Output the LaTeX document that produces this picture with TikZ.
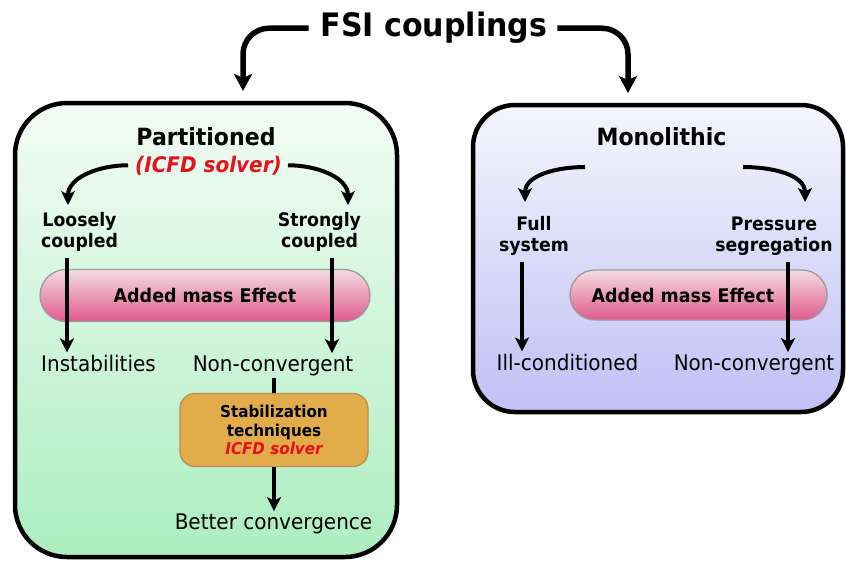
\documentclass[tikz,border=0pt]{standalone}
\usepackage{fontspec}
\setmainfont[FakeStretch=0.93]{DejaVu Sans}
\usetikzlibrary{arrows.meta,shapes.misc}

\definecolor{icfdred}{HTML}{E8101A}
\definecolor{partTop}{HTML}{F3FCF5}
\definecolor{partBot}{HTML}{ACEEC0}
\definecolor{monoTop}{HTML}{F5F5FD}
\definecolor{monoBot}{HTML}{C0C0F6}
\definecolor{pillTop}{HTML}{F4DCE1}
\definecolor{pillBot}{HTML}{E05A8C}
\definecolor{pillEdge}{HTML}{9A9A9A}
\definecolor{stabFill}{HTML}{E2AC4A}
\definecolor{stabEdge}{HTML}{B59055}

\tikzset{
  txt/.style={inner sep=2pt, text=black},
  heading/.style={txt, font=\bfseries\fontsize{23.7}{28}\selectfont},
  branch/.style={txt, align=center, font=\bfseries\fontsize{18.6}{21.5}\selectfont},
  result/.style={txt, font=\fontsize{21.5}{25}\selectfont},
  bigbox/.style={draw=black, line width=4.5pt, inner sep=0pt},
  pill/.style={rounded rectangle, draw=pillEdge, line width=1.3pt,
    top color=pillTop, bottom color=pillBot, inner sep=0pt,
    font=\bfseries\fontsize{18.8}{22}\selectfont},
  stabbox/.style={draw=stabEdge, line width=1.3pt, fill=stabFill,
    rounded corners=15pt, inner sep=0pt, align=center,
    font=\bfseries\fontsize{16.3}{18.7}\selectfont},
  arr/.style={line width=4pt, -{Stealth[length=14pt,width=14pt,inset=3.5pt]}},
  bigarr/.style={line width=5.5pt, -{Stealth[length=17pt,width=18pt,inset=4pt]}},
  plain/.style={line width=4pt},
}

\begin{document}
\begin{tikzpicture}[x=1pt,y=-1pt]
\useasboundingbox (0,0) rectangle (846,560);

% the two families of coupling schemes
\node[bigbox, rounded corners=52pt, top color=partTop, bottom color=partBot,
      minimum width=382pt, minimum height=454pt] (partbox) at (206,330) {};
\node[bigbox, rounded corners=42pt, top color=monoTop, bottom color=monoBot,
      minimum width=370pt, minimum height=307pt] (monobox) at (658,258.5) {};

% added mass bands
\node[pill, minimum width=330pt, minimum height=52pt] (lpill) at (205,295.5) {Added mass Effect};
\node[pill, minimum width=257pt, minimum height=50pt] (rpill) at (698.5,295) {};
\node[txt, font=\bfseries\fontsize{18.8}{22}\selectfont, anchor=base] (rmass) at (683,302) {Added mass Effect};

% title
\node[txt, anchor=base, font=\bfseries\fontsize{32.3}{38}\selectfont] (fsi) at (434,36) {FSI couplings};
\coordinate (tl) at (243,91);
\coordinate (tr) at (628,93);
\draw[bigarr, rounded corners=26pt] ([xshift=-10pt,yshift=-1pt]fsi.west) -| (tl);
\draw[bigarr, rounded corners=26pt] ([xshift=8pt,yshift=-1pt]fsi.east) -| (tr);

% partitioned side
\node[heading, anchor=base] (part) at (206,145) {Partitioned};
\node[txt, anchor=base, text=icfdred, font=\bfseries\itshape\fontsize{21.5}{25}\selectfont] (icfd) at (208.5,172) {(ICFD solver)};
\node[branch] (loose) at (79.5,232) {Loosely\\coupled};
\node[branch] (strong) at (319.5,232) {Strongly\\coupled};
\coordinate (pl) at (68,205);
\coordinate (pr) at (348,205);
\draw[arr] ([xshift=-5pt]icfd.west) to[out=180,in=90] (pl);
\draw[arr] ([xshift=4pt]icfd.east) to[out=0,in=90] (pr);

\node[result, anchor=base] (instab) at (98.5,371) {Instabilities};
\node[result, anchor=base] (ncl) at (273,371) {Non-convergent};
\path (loose.south) ++(-12.5pt,-4pt) coordinate (va);
\path (strong.south) ++(12.5pt,-4pt) coordinate (vb);
\draw[arr] (va) -- (va |- instab.north);
\draw[arr] (vb) -- (vb |- ncl.north);

\node[stabbox, minimum width=188pt, minimum height=73pt] (stab) at (274,430)
  {Stabilization\\techniques\\{\color{icfdred}\itshape ICFD solver}};
\node[result, anchor=base] (better) at (273.5,529) {Better convergence};
\draw[plain] (stab.north |- ncl.south) -- (stab.north);
\draw[arr] (stab.south) -- (stab.south |- better.north);

% monolithic side
\node[heading, anchor=base] (mono) at (661.5,145) {Monolithic};
\node[branch] (full) at (534,236) {Full\\system};
\node[branch] (press) at (774,236) {Pressure\\segregation};
\coordinate (ma) at (585,167);
\coordinate (mb) at (743,167);
\coordinate (ml) at (525,202);
\coordinate (mr) at (805,202);
\draw[arr] (ma) to[out=180,in=90] (ml);
\draw[arr] (mb) to[out=0,in=90] (mr);

\node[result, anchor=base] (ill) at (567.5,370) {Ill-conditioned};
\node[result, anchor=base] (ncr) at (754,370) {Non-convergent};
\path (full.south) ++(-12pt,-4pt) coordinate (vc);
\path (press.south) ++(14pt,-4pt) coordinate (vd);
\draw[arr] (vc) -- (vc |- ill.north);
\draw[arr] (vd) -- (vd |- ncr.north);
\end{tikzpicture}
\end{document}
